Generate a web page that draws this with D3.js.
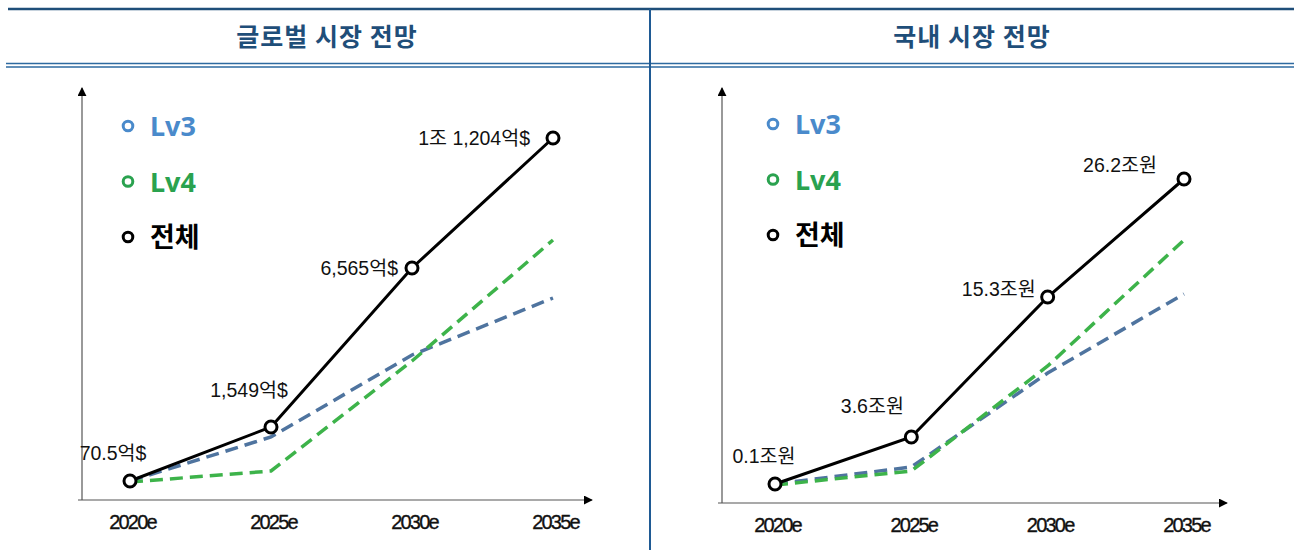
<!DOCTYPE html>
<html>
<head>
<meta charset="utf-8">
<script src="https://cdn.jsdelivr.net/npm/d3@7"></script>
<style>
  body { margin: 0; background: #fff; }
  svg text { font-family: "Liberation Sans", "Noto Sans CJK KR", sans-serif; }
  .title { font-family: "Noto Sans CJK KR", sans-serif; font-weight: 700; font-size: 25px; letter-spacing: 1px; fill: #1f4e79; }
  .legend text { font-family: "Noto Sans", "Noto Sans CJK KR", sans-serif; font-size: 27px; }
  .value { font-size: 19.5px; fill: #111; }
</style>
</head>
<body>
<div id="canvas"></div>
<script>
const W = 1294, H = 550;

// categories and tick labels
const years = ["2020e", "2025e", "2030e", "2035e"];

// heights (schematic index, 0 = x axis)
const globalTotal = [4.75, 18.25, 58, 90.5];
const globalLv3 = [4.75, 15.75, 36.25, 50.5];
const globalLv4 = [4.5, 7.25, 34.75, 65];
const globalLabels = ["70.5억$", "1,549억$", "6,565억$", "1조 1,204억$"];

const domesticTotal = [4.75, 16.5, 51.5, 81];
const domesticLv3 = [4.75, 9, 32.5, 52.25];
const domesticLv4 = [4.5, 8, 34.25, 65.75];
const domesticLabels = ["0.1조원", "3.6조원", "15.3조원", "26.2조원"];

const titles = ["글로벌 시장 전망", "국내 시장 전망"];
const legendNames = ["Lv3", "Lv4", "전체"];
const legendColors = ["#4a8acb", "#2aa24f", "#000"];

const lineColors = { lv3: "#4f749f", lv4: "#3db34a", total: "#000" };

const svg = d3.select("#canvas").append("svg")
  .attr("width", W).attr("height", H);

// header frame
svg.append("line").attr("x1", 8).attr("x2", W).attr("y1", 9).attr("y2", 9)
  .attr("stroke", "#1f4e79").attr("stroke-width", 2.5);
[63.5, 67].forEach(function(y){
  svg.append("line").attr("x1", 6).attr("x2", W).attr("y1", y).attr("y2", y)
    .attr("stroke", "#2e6aa0").attr("stroke-width", 1.6);
});
svg.append("line").attr("x1", 650).attr("x2", 650).attr("y1", 9).attr("y2", H)
  .attr("stroke", "#1f5a94").attr("stroke-width", 2);

svg.append("text").attr("class", "title").attr("x", 327).attr("y", 46)
  .attr("text-anchor", "middle").text(titles[0]);
svg.append("text").attr("class", "title").attr("x", 972).attr("y", 46)
  .attr("text-anchor", "middle").text(titles[1]);

// arrowhead
svg.append("defs").append("marker")
  .attr("id", "arrow").attr("viewBox", "0 0 10 10")
  .attr("refX", 9).attr("refY", 5)
  .attr("markerWidth", 9).attr("markerHeight", 9)
  .attr("markerUnits", "userSpaceOnUse")
  .attr("orient", "auto")
  .append("path").attr("d", "M0,0 L10,5 L0,10 Z").attr("fill", "#000");

function drawPanel(p){
  const g = svg.append("g");

  const x = d3.scalePoint().domain(years).range([p.x0, p.x1]);
  const y = d3.scaleLinear().domain([0, 100]).range([p.axisY, p.axisY - 400]);

  // axes
  g.append("line").attr("x1", p.axisX).attr("x2", p.axisX)
    .attr("y1", p.axisY).attr("y2", p.topY)
    .attr("stroke", "#555").attr("stroke-width", 1.2)
    .attr("marker-end", "url(#arrow)");
  g.append("line").attr("x1", p.axisX - 4).attr("x2", p.rightX)
    .attr("y1", p.axisY).attr("y2", p.axisY)
    .attr("stroke", "#555").attr("stroke-width", 1.2)
    .attr("marker-end", "url(#arrow)");

  const xAxis = d3.axisBottom(x).tickSize(0).tickPadding(15);
  const ax = g.append("g").attr("transform", "translate(0," + p.axisY + ")")
    .call(xAxis);
  ax.select(".domain").remove();
  ax.attr("font-size", null).attr("font-family", null);
  ax.selectAll(".tick text")
    .attr("dx", 2)
    .style("font-size", "20px")
    .style("letter-spacing", "-1.8px")
    .style("fill", "#111")
    .style("stroke", "#111")
    .style("stroke-width", "0.35px");

  const line = d3.line()
    .x(function(d, i){ return x(years[i]); })
    .y(function(d){ return y(d); });

  g.append("path").datum(p.lv3).attr("d", line)
    .attr("fill", "none").attr("stroke", lineColors.lv3)
    .attr("stroke-width", 3.5).attr("stroke-dasharray", "13,7");
  g.append("path").datum(p.lv4).attr("d", line)
    .attr("fill", "none").attr("stroke", lineColors.lv4)
    .attr("stroke-width", 3.5).attr("stroke-dasharray", "13,7");
  g.append("path").datum(p.total).attr("d", line)
    .attr("fill", "none").attr("stroke", lineColors.total)
    .attr("stroke-width", 3);

  g.selectAll(".pt").data(p.total).enter()
    .append("circle").attr("class", "pt")
    .attr("cx", function(d, i){ return x(years[i]); })
    .attr("cy", function(d){ return y(d); })
    .attr("r", 6).attr("fill", "#fff")
    .attr("stroke", "#000").attr("stroke-width", 3);

  // value labels
  g.selectAll(".value").data(p.total).enter()
    .append("text").attr("class", "value")
    .attr("x", function(d, i){ return x(years[i]) + p.labelDx[i]; })
    .attr("y", function(d, i){ return y(d) + p.labelDy[i]; })
    .attr("text-anchor", function(d, i){ return p.labelAnchor[i]; })
    .text(function(d, i){ return p.labels[i]; });

  // legend
  const legend = g.append("g").attr("class", "legend");
  legendNames.forEach(function(name, i){
    const ly = p.legendY + i * 55.5;
    legend.append("circle").attr("cx", p.legendX).attr("cy", ly)
      .attr("r", 4.8).attr("fill", "#fff")
      .attr("stroke", legendColors[i]).attr("stroke-width", 3);
    legend.append("text").attr("x", p.legendX + 22).attr("y", ly + 10)
      .attr("fill", legendColors[i])
      .attr("font-weight", 700)
      .text(name);
  });
}

drawPanel({
  x0: 130, x1: 553, axisX: 82, axisY: 500, topY: 88, rightX: 592,
  total: globalTotal, lv3: globalLv3, lv4: globalLv4, labels: globalLabels,
  labelDx: [-17, -22, -14, -23], labelDy: [-21, -30, 7, 7],
  labelAnchor: ["middle", "middle", "end", "end"],
  legendX: 128, legendY: 126
});

drawPanel({
  x0: 775, x1: 1184, axisX: 722, axisY: 503, topY: 88, rightX: 1227,
  total: domesticTotal, lv3: domesticLv3, lv4: domesticLv4, labels: domesticLabels,
  labelDx: [-11, -39, -12, -64], labelDy: [-21, -24, -1, -7],
  labelAnchor: ["middle", "middle", "end", "middle"],
  legendX: 773, legendY: 124
});
</script>
</body>
</html>
